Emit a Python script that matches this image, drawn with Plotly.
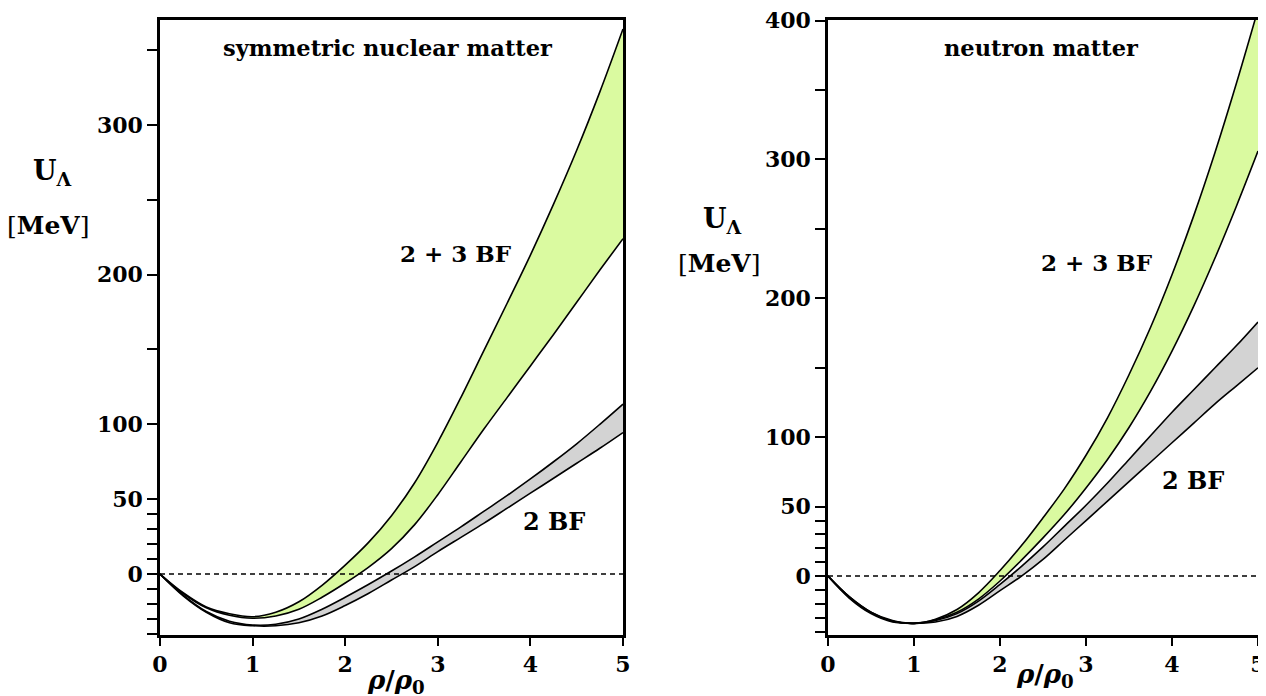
import plotly.graph_objects as go

# Lambda single-particle potential vs density, two panels
RHO = [0, 0.25, 0.5, 0.75, 1.0, 1.25, 1.5, 1.75, 2.0, 2.25, 2.5,
       2.75, 3.0, 3.25, 3.5, 3.75, 4.0, 4.25, 4.5, 4.75, 5.0]

# symmetric nuclear matter
SNM_23_UP = [0, -12.5, -22, -26.5, -28.5, -25.5, -18.5, -7.5, 6, 21, 39,
             61, 88, 118, 149.5, 181, 213, 247, 283, 322, 364]
SNM_23_LO = [0, -13, -22.5, -27.5, -29.5, -28, -23.5, -15.5, -6, 4.5, 17,
             33, 53, 75, 97, 118, 139, 160, 181.5, 203, 224]
SNM_2_UP = [0, -14, -25, -31.5, -34, -33.5, -30, -23.5, -15.5, -7, 2,
            11.5, 21.5, 31.5, 42, 52.5, 63.5, 75, 87, 100, 113.5]
SNM_2_LO = [0, -14.5, -25.5, -32.5, -34.5, -34.5, -32.5, -28, -21, -13, -4,
            5, 15, 24.5, 34, 44, 54, 64, 74, 84, 94.5]

# neutron matter
NM_23_UP = [0, -15, -26, -32, -34, -31, -24, -12, 4, 22, 42,
            63, 87, 114, 145, 179, 217, 259, 305, 355, 408]
NM_23_LO = [0, -15, -26, -32.5, -34, -31.5, -26, -16.5, -3.5, 11.5, 27.5,
            44.5, 63.5, 84, 107, 133, 162, 194, 229, 266.5, 306]
NM_2_UP = [0, -15.5, -26.5, -32.5, -34, -32, -27, -18, -6, 7, 21,
           36, 51, 67, 84, 101, 118, 134, 150, 166, 183]
NM_2_LO = [0, -16, -27, -33, -34, -33, -29, -21, -10.5, 0, 12,
           26, 40, 54, 68, 82, 96, 110, 124, 137, 150]

W, H = 1266, 696
OFF = 8  # page body margin
GREEN = "#dafaa0"
GREY = "#d3d3d3"
SERIF = "DejaVu Serif"


def px(x):
    return (x - OFF) / W


def py(y):
    return 1 - (y - OFF) / H


fig = go.Figure()


def band(lo, up, color, xa, ya):
    fig.add_trace(go.Scatter(x=RHO, y=lo, mode="lines", xaxis=xa, yaxis=ya,
                             line=dict(color="black", width=1.6, shape="spline"),
                             hoverinfo="skip"))
    fig.add_trace(go.Scatter(x=RHO, y=up, mode="lines", xaxis=xa, yaxis=ya,
                             fill="tonexty", fillcolor=color,
                             line=dict(color="black", width=1.6, shape="spline"),
                             hoverinfo="skip"))


band(SNM_2_LO, SNM_2_UP, GREY, "x", "y")
band(SNM_23_LO, SNM_23_UP, GREEN, "x", "y")
band(NM_2_LO, NM_2_UP, GREY, "x2", "y2")
band(NM_23_LO, NM_23_UP, GREEN, "x2", "y2")

tickfont = dict(family=SERIF, size=22, color="black", weight="bold")

left_major = [0, 50, 100, 200, 300]
left_minor = [-40, -30, -20, -10, 10, 20, 30, 40, 150, 250, 350]
right_major = [0, 50, 100, 200, 300, 400]
right_minor = [-40, -30, -20, -10, 10, 20, 30, 40, 150, 250, 350]
mirror_l = [0, 50, 100, 150, 200, 250, 300, 350]
mirror_r = [0, 50, 100, 150, 200, 250, 300, 350, 400]

dom_l = [px(160), px(623)]
dom_r = [px(828), px(1258)]
dom_y = [py(635), py(20)]
yr_l = [-40.7, 370]
yr_r = [-42.4, 400.4]

base_x = dict(range=[0, 5], showgrid=False, zeroline=False, showline=True,
              linecolor="black", linewidth=2.5, mirror=True, ticks="outside",
              ticklen=8, tickwidth=2, tickcolor="black", tickmode="array",
              tickvals=[0, 1, 2, 3, 4, 5], tickfont=tickfont, automargin=False,
              ticklabeloverflow="allow")
base_y = dict(showgrid=False, zeroline=False, showline=True,
              linecolor="black", linewidth=2.5, mirror=True, ticks="outside",
              ticklen=10, tickwidth=2, tickcolor="black", tickmode="array",
              tickfont=tickfont, automargin=False, ticklabeloverflow="allow")
minor_style = dict(ticks="outside", ticklen=10, tickwidth=2, tickcolor="black",
                   showgrid=False)
inner = dict(showgrid=False, zeroline=False, showline=False, ticks="inside",
             ticklen=9, tickwidth=1.5, tickcolor="black", tickmode="array",
             showticklabels=False, automargin=False)

fig.update_layout(
    width=W, height=H, margin=dict(l=0, r=0, t=0, b=0, autoexpand=False),
    paper_bgcolor="white", plot_bgcolor="white", showlegend=False,
    hovermode=False,
    xaxis=dict(base_x, domain=dom_l, anchor="y"),
    yaxis=dict(base_y, domain=dom_y, anchor="x", range=yr_l,
               tickvals=left_major,
               minor=dict(minor_style, tickvals=left_minor)),
    xaxis2=dict(base_x, domain=dom_r, anchor="y2"),
    yaxis2=dict(base_y, domain=dom_y, anchor="x2", range=yr_r,
                tickvals=right_major,
                minor=dict(minor_style, tickvals=right_minor)),
    xaxis3=dict(inner, overlaying="x", side="top", anchor="y", range=[0, 5],
                tickvals=[1, 2, 3, 4]),
    yaxis3=dict(inner, overlaying="y", side="right", anchor="x", range=yr_l,
                tickvals=mirror_l),
    xaxis4=dict(inner, overlaying="x2", side="top", anchor="y2", range=[0, 5],
                tickvals=[1, 2, 3, 4]),
    yaxis4=dict(inner, overlaying="y2", side="right", anchor="x2", range=yr_r,
                tickvals=mirror_r),
)

# zero reference lines
for xr, yr in (("x", "y"), ("x2", "y2")):
    fig.add_shape(type="line", xref=xr, yref=yr, x0=0, x1=5, y0=0, y1=0,
                  line=dict(color="black", width=1.5, dash="5px,4px"))

bold = dict(family=SERIF, color="black", weight="bold")


def note(text, x, y, size, xref="paper", yref="paper"):
    fig.add_annotation(text=text, x=x, y=y, xref=xref, yref=yref,
                       showarrow=False, xanchor="center", yanchor="middle",
                       font=dict(bold, size=size))


note("symmetric nuclear matter", 2.46, 351, 22.5, "x", "y")
note("2 + 3 BF", 3.2, 214, 23, "x", "y")
note("2 BF", 4.25, 35, 24, "x", "y")
note("neutron matter", 2.48, 380, 22.5, "x2", "y2")
note("2 + 3 BF", 3.13, 226, 23, "x2", "y2")
note("2 BF", 4.24, 69, 24, "x2", "y2")

mev = ("<span style='font-weight:normal'>[</span>MeV"
       "<span style='font-weight:normal'>]</span>")
note("U<sub>Λ</sub>", px(52), py(172), 27)
note(mev, px(49), py(226), 25)
note("U<sub>Λ</sub>", px(722), py(220), 27)
note(mev, px(719), py(263), 25)
note("<i>ρ</i>/<i>ρ</i><sub>0</sub>", px(396), py(681), 26)
note("<i>ρ</i>/<i>ρ</i><sub>0</sub>", px(1045), py(675), 26)

fig.write_html("out.html")
